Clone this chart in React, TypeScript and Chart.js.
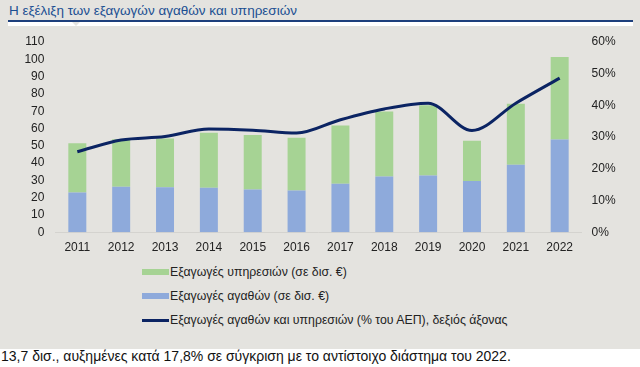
import React, { useEffect, useRef } from "react";
import { Chart, registerables } from "chart.js";

Chart.register(...registerables);

const years = ["2011","2012","2013","2014","2015","2016","2017","2018","2019","2020","2021","2022"];
const goodsExports = [23.0, 26.4, 26.0, 25.8, 24.7, 24.1, 28.0, 32.2, 32.8, 29.7, 39.0, 53.6];
const servicesExports = [28.5, 27.4, 28.2, 31.7, 31.6, 30.5, 33.7, 37.6, 40.7, 23.2, 35.3, 47.7];
const exportsPctGdp = [25.4, 29.1, 30.2, 32.6, 32.2, 31.3, 35.5, 38.9, 40.7, 32.1, 40.7, 48.6];

const leftTicks = [0, 10, 20, 30, 40, 50, 60, 70, 80, 90, 100, 110];
const rightTicks = [0, 10, 20, 30, 40, 50, 60];

const titleText = "Η εξέλιξη των εξαγωγών αγαθών και υπηρεσιών";
const legendServices = "Εξαγωγές υπηρεσιών (σε δισ. €)";
const legendGoods = "Εξαγωγές αγαθών (σε δισ. €)";
const legendLine = "Εξαγωγές αγαθών και υπηρεσιών (% του ΑΕΠ), δεξιός άξονας";
const footText = "13,7 δισ., αυξημένες κατά 17,8% σε σύγκριση με το αντίστοιχο διάστημα του 2022.";

const GREEN = "#a6d394";
const BLUE = "#8eaadb";
const NAVY = "#0b2463";
const FONT = "'Liberation Sans', Arial, sans-serif";

const CANVAS_H = 262;

export default function App() {
  const ref = useRef<HTMLCanvasElement | null>(null);

  useEffect(() => {
    const canvas = ref.current;
    if (!canvas) return;
    const chart = new Chart(canvas, {
      type: "bar",
      data: {
        labels: years,
        datasets: [
          {
            type: "line",
            label: legendLine,
            data: exportsPctGdp,
            yAxisID: "y1",
            borderColor: NAVY,
            borderWidth: 3,
            pointRadius: 0,
            tension: 0.4,
            cubicInterpolationMode: "monotone",
            order: 0,
          } as any,
          {
            label: legendGoods,
            data: goodsExports,
            backgroundColor: BLUE,
            yAxisID: "y",
            stack: "s",
            order: 1,
          },
          {
            label: legendServices,
            data: servicesExports,
            backgroundColor: GREEN,
            yAxisID: "y",
            stack: "s",
            order: 1,
          },
        ],
      },
      options: {
        animation: false,
        responsive: false,
        maintainAspectRatio: false,
        layout: { padding: { top: 42, left: 0, right: 0, bottom: 0 } },
        datasets: { bar: { barPercentage: 0.41, categoryPercentage: 1 } },
        plugins: { legend: { display: false }, tooltip: { enabled: false } },
        scales: {
          x: {
            stacked: true,
            grid: { display: false, drawTicks: false },
            border: { display: true, color: "#d4d3cf", width: 1 },
            ticks: { color: "#222", font: { family: FONT, size: 12 }, padding: 8, maxRotation: 0, autoSkip: false },
            afterFit: (s: any) => { s.height = CANVAS_H - 232.3; },
          },
          y: {
            stacked: true,
            position: "left",
            min: 0,
            max: 110,
            afterBuildTicks: (s: any) => { s.ticks = leftTicks.map((v) => ({ value: v })); },
            grid: { display: false, drawTicks: false },
            border: { display: false },
            ticks: { color: "#222", font: { family: FONT, size: 12 }, padding: 11, autoSkip: false },
            afterFit: (s: any) => { s.width = 55.4; },
          },
          y1: {
            position: "right",
            min: 0,
            max: 60,
            afterBuildTicks: (s: any) => { s.ticks = rightTicks.map((v) => ({ value: v })); },
            grid: { display: false, drawTicks: false },
            border: { display: false },
            ticks: {
              color: "#222",
              font: { family: FONT, size: 12 },
              padding: 10,
              autoSkip: false,
              callback: (v: any) => v + "%",
            },
            afterFit: (s: any) => { s.width = 640 - 581.6; },
          },
        },
      },
    });
    return () => chart.destroy();
  }, []);

  const legendRow = (top: number, swatch: React.ReactNode, text: string) => (
    <div style={{ position: "absolute", left: 142, top, height: 16, display: "flex", alignItems: "center" }}>
      <div style={{ width: 27, display: "flex", alignItems: "center" }}>{swatch}</div>
      <span style={{ marginLeft: 1, fontSize: 12.3, color: "#222", whiteSpace: "nowrap" }}>{text}</span>
    </div>
  );

  return (
    <div style={{ position: "absolute", left: 0, top: 0, width: 640, height: 367, background: "#fff", overflow: "hidden", fontFamily: FONT }}>
      <div style={{ position: "absolute", left: 0, top: 0, width: 640, height: 349, background: "#e4e3df" }} />
      <div style={{ position: "absolute", left: 9, top: 3, fontSize: 13.5, color: "#1b4f92", whiteSpace: "nowrap" }}>{titleText}</div>
      <div style={{ position: "absolute", left: 8, top: 19.5, width: 625, height: 2, background: "#1d3f7c" }} />
      <div style={{ position: "absolute", left: 8, top: 21.5, width: 625, height: 4, background: "#fff" }} />
      <div style={{ position: "absolute", left: 72, top: 21.5, width: 0, height: 0, borderLeft: "4px solid transparent", borderRight: "4px solid transparent", borderTop: "4px solid #e4e3df" }} />
      <canvas ref={ref} width={640} height={CANVAS_H} style={{ position: "absolute", left: 0, top: 0, width: 640, height: CANVAS_H }} />
      {legendRow(264, <div style={{ width: 27, height: 6, background: GREEN }} />, legendServices)}
      {legendRow(288, <div style={{ width: 27, height: 6, background: BLUE }} />, legendGoods)}
      {legendRow(312, <div style={{ width: 27, height: 3, background: NAVY }} />, legendLine)}
      <div style={{ position: "absolute", left: 1, top: 348, fontSize: 14, color: "#111", whiteSpace: "nowrap" }}>{footText}</div>
    </div>
  );
}
